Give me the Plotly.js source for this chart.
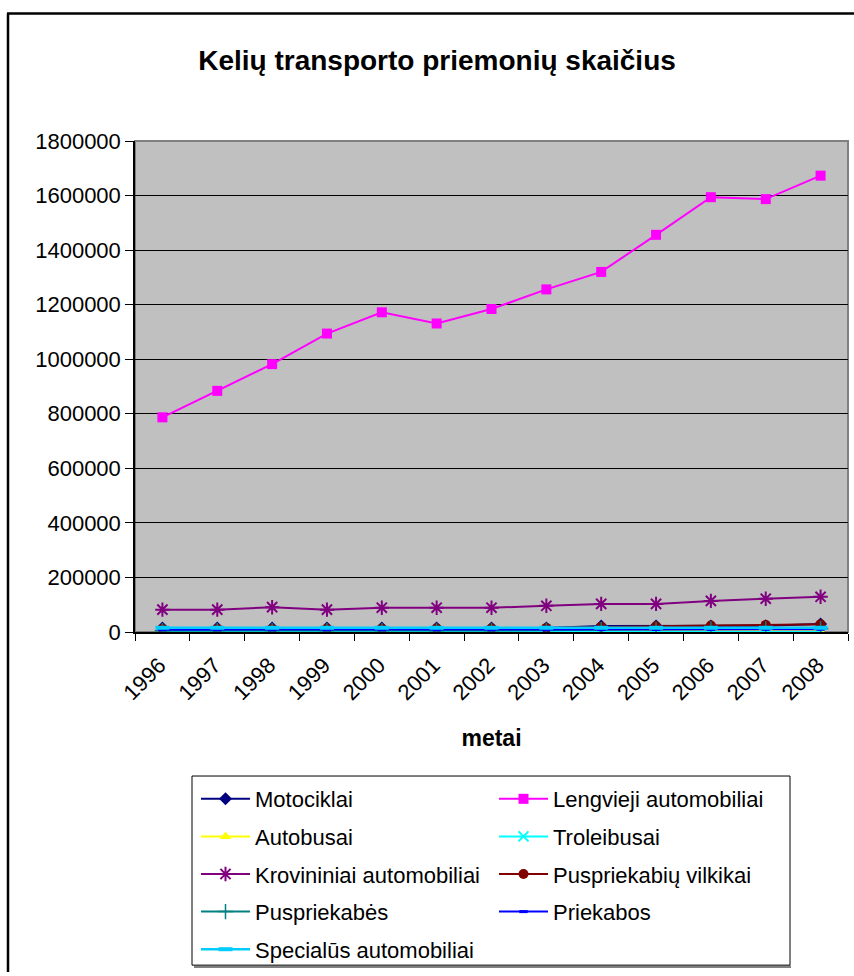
<!DOCTYPE html>
<html>
<head>
<meta charset="utf-8">
<script src="https://cdn.plot.ly/plotly-3.0.1.min.js"></script>
<style>html,body{margin:0;padding:0;background:#fff;overflow:hidden;}#chart{width:854px;height:976px;}</style>
</head>
<body>
<div id="chart"></div>
<script>
const years = ['1996','1997','1998','1999','2000','2001','2002','2003','2004','2005','2006','2007','2008'];
const motociklai = [15000,15000,15000,15000,15000,15000,15000,15000,22000,22000,22000,23000,29000];
const lengvieji = [787000,884000,982000,1094000,1172000,1131000,1184000,1256000,1320000,1456000,1594000,1587000,1673000];
const autobusai = [2000,2000,2000,2000,2000,2000,2000,2000,2000,2000,2000,2000,2000];
const troleibusai = [400,400,400,400,400,400,400,400,400,400,400,400,400];
const krovininiai = [82000,82000,91000,82000,89000,89000,89000,96000,103000,103000,114000,122000,129000];
const vilkikai = [12000,12000,12000,13000,13000,14000,14000,15000,19000,21000,24000,26000,28000];
const puspriekabes = [5000,5000,5000,5000,5000,5000,5000,6000,8000,9000,10000,11000,12000];
const priekabos = [8500,8500,8500,8500,8500,8500,8500,8500,9000,9000,9500,10000,10000];
const specialus = [15500,15500,15500,15500,15500,15500,15500,15500,15500,15500,15500,15500,15500];

const names = ['Motociklai','Lengvieji automobiliai','Autobusai','Troleibusai','Krovininiai automobiliai','Puspriekabių vilkikai','Puspriekabės','Priekabos','Specialūs automobiliai'];

function tr(name, y, color, symbol, msize, mline, legend, lw) {
  const open = symbol.indexOf('open') >= 0;
  return {
    type: 'scatter', mode: 'lines+markers', x: years, y: y, name: name,
    legend: legend, legendgroup: name,
    line: {color: color, width: lw || 2},
    marker: open ? {symbol: symbol, size: msize, color: color, line: {color: color, width: mline}}
                 : {symbol: symbol, size: msize, color: color},
    hoverinfo: 'x+y+name'
  };
}

const data = [
  tr(names[0], motociklai, '#000080', 'diamond', 10, 0, 'legend'),
  tr(names[1], lengvieji, '#FF00FF', 'square', 10, 0, 'legend2'),
  tr(names[2], autobusai, '#FFFF00', 'triangle-up', 10, 0, 'legend'),
  tr(names[3], troleibusai, '#00FFFF', 'x-thin-open', 10, 2, 'legend2'),
  tr(names[4], krovininiai, '#800080', 'asterisk-open', 12, 2, 'legend'),
  tr(names[5], vilkikai, '#800000', 'circle', 10, 0, 'legend2'),
  tr(names[6], puspriekabes, '#008080', 'cross-thin-open', 11, 1.5, 'legend'),
  tr(names[7], priekabos, '#0000FF', 'line-ew-open', 6, 3, 'legend2'),
  tr(names[8], specialus, '#00CCFF', 'line-ew-open', 10, 4, 'legend', 2.5)
];

const PL = 135, PR = 848, PT = 141, PB = 634.3;
const W = PR - PL, H = PB - PT;
const px = v => (v - PL) / W;
const py = v => (PB - v) / H;

const legendFont = {family: 'Liberation Sans, Arial, sans-serif', size: 22, color: '#000'};

const layout = {
  width: 854, height: 976,
  margin: {l: PL, r: 854 - PR, t: PT, b: 976 - PB},
  paper_bgcolor: '#ffffff',
  plot_bgcolor: '#C0C0C0',
  font: {family: 'Liberation Sans, Arial, sans-serif', size: 22, color: '#000'},
  title: {text: '<b>Kelių transporto priemonių skaičius</b>', x: 437/854, xref: 'container', xanchor: 'center',
          y: 1 - 60/976, yref: 'container', yanchor: 'middle',
          font: {family: 'Liberation Sans, Arial, sans-serif', size: 28, color: '#000'}},
  xaxis: {
    type: 'category', range: [-0.5, 12.5], tickson: 'boundaries',
    ticks: 'outside', ticklen: 7, tickcolor: '#000', tickwidth: 1,
    showline: true, linecolor: '#000', linewidth: 1.5, showgrid: false, zeroline: false,
    tickangle: -45, tickfont: {size: 22}, ticklabelstandoff: 10, ticklabelshift: -3,
    title: {text: '<b>metai</b>', font: {size: 23}, standoff: 26},
    automargin: false, fixedrange: true
  },
  yaxis: {
    range: [0, 1800000], dtick: 200000, tick0: 0, tickformat: 'd',
    ticks: 'outside', ticklen: 8, tickcolor: '#000', tickwidth: 1,
    showline: true, linecolor: '#000', linewidth: 1.5,
    showgrid: true, gridcolor: '#000', gridwidth: 1, zeroline: false,
    tickfont: {size: 22}, automargin: false, fixedrange: true
  },
  showlegend: true,
  legend: {x: px(196), xanchor: 'left', y: py(781), yanchor: 'top', orientation: 'v',
           traceorder: 'grouped', tracegroupgap: 6, bgcolor: 'rgba(0,0,0,0)', borderwidth: 0,
           font: legendFont, itemwidth: 49, itemclick: false, itemdoubleclick: false},
  legend2: {x: px(494), xanchor: 'left', y: py(781), yanchor: 'top', orientation: 'v',
           traceorder: 'grouped', tracegroupgap: 6, bgcolor: 'rgba(0,0,0,0)', borderwidth: 0,
           font: legendFont, itemwidth: 49, itemclick: false, itemdoubleclick: false},
  shapes: [
    {type: 'line', xref: 'paper', yref: 'paper', x0: px(8), x1: px(8), y0: py(976), y1: py(13),
     line: {color: '#000', width: 2.5}, layer: 'below'},
    {type: 'line', xref: 'paper', yref: 'paper', x0: px(7), x1: px(854), y0: py(13), y1: py(13),
     line: {color: '#000', width: 2.5}, layer: 'below'},
    {type: 'rect', xref: 'paper', yref: 'paper', x0: 0, x1: 1, y0: 0, y1: 1,
     line: {color: '#808080', width: 2}, fillcolor: 'rgba(0,0,0,0)', layer: 'below'},
    {type: 'line', xref: 'paper', yref: 'paper', x0: px(194), x1: px(791), y0: py(970.5), y1: py(970.5),
     line: {color: '#808080', width: 2.5}, layer: 'below'},
    {type: 'rect', xref: 'paper', yref: 'paper', x0: px(192), x1: px(790), y0: py(969), y1: py(779),
     line: {color: '#000', width: 1}, fillcolor: '#ffffff', layer: 'below'},
    {type: 'rect', xref: 'paper', yref: 'paper', x0: px(849.5), x1: px(870), y0: py(1000), y1: py(15),
     line: {width: 0}, fillcolor: '#ffffff', layer: 'above'}
  ]
};

Plotly.newPlot('chart', data, layout, {displayModeBar: false});
</script>
</body>
</html>
